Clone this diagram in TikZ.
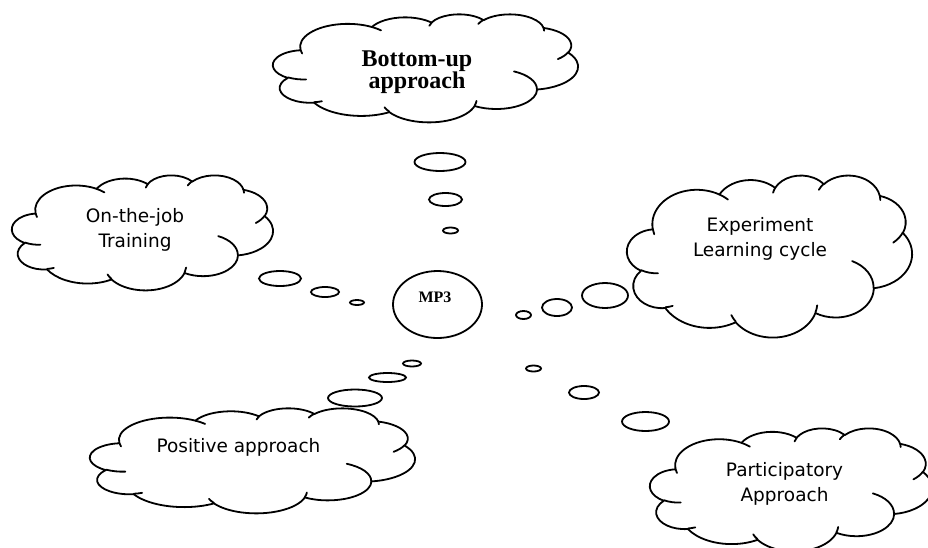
\documentclass[tikz,border=0pt]{standalone}
\usepackage{fontspec}
\setmainfont{Liberation Serif}
\newfontfamily\tahomalike{DejaVu Sans}
\usetikzlibrary{shapes.geometric}

\tikzset{
    cloudline/.style={draw=black, line width=1.8pt, fill=white, line join=round},
    cloudmark/.style={draw=black, line width=1.8pt, line cap=round},
    bubble/.style={draw=black, line width=1.8pt, fill=white},
    sanslabel/.style={font=\tahomalike\fontsize{18.5}{24.5}\selectfont, align=center, inner sep=0pt},
    seriflabel/.style={font=\bfseries\fontsize{24}{22.5}\selectfont, align=center, inner sep=0pt}
}

% thought cloud: left, top, width, height (px); drawn on a 43.2 x 43.2 grid
\newcommand{\officecloud}[4]{%
    \pgfmathsetmacro{\cldx}{#3/43.2}%
    \pgfmathsetmacro{\cldy}{#4/43.2}%
    \begin{scope}[shift={(#1,#2)}, x=\cldx pt, y=-\cldy pt]
        \draw[cloudline] (3.900,14.370)
            arc[start angle=-187.75, end angle=-59.64, x radius=6.753, y radius=9.190]
            arc[start angle=-152.03, end angle=-45.45, x radius=5.333, y radius=7.267]
            arc[start angle=-153.50, end angle=-37.32, x radius=4.365, y radius=5.945]
            arc[start angle=-139.72, end angle=-10.21, x radius=4.857, y radius=6.595]
            arc[start angle=-74.77, end angle=23.21, x radius=5.333, y radius=7.273]
            arc[start angle=-37.52, end angle=81.86, x radius=6.775, y radius=9.220]
            arc[start angle=0.46, end angle=121.98, x radius=5.785, y radius=7.867]
            arc[start angle=16.84, end angle=146.22, x radius=6.752, y radius=9.215]
            arc[start angle=58.98, end angle=150.19, x radius=7.720, y radius=10.543]
            arc[start angle=-276.69, end angle=-136.91, x radius=4.360, y radius=5.918]
            arc[start angle=-239.64, end angle=-95.89, x radius=4.345, y radius=5.945]
            -- cycle;
        \draw[cloudmark]
            (4.693,26.177) arc[start angle=85.55, end angle=120.36, x radius=4.345, y radius=5.945]
            (6.928,34.899) arc[start angle=68.24, end angle=83.31, x radius=4.360, y radius=5.918]
            (16.478,39.090) arc[start angle=146.22, end angle=158.47, x radius=6.752, y radius=9.215]
            (28.827,34.751) arc[start angle=4.74, end angle=16.84, x radius=6.752, y radius=9.215]
            (34.129,22.954) arc[start angle=-64.03, end angle=0.46, x radius=5.785, y radius=7.867]
            (41.798,15.354) arc[start angle=23.21, end angle=49.64, x radius=5.333, y radius=7.273]
            (38.324,5.426) arc[start angle=-10.21, end angle=0.82, x radius=4.857, y radius=6.595]
            (29.078,3.952) arc[start angle=-156.29, end angle=-139.72, x radius=4.857, y radius=6.595]
            (22.141,4.720) arc[start angle=-167.73, end angle=-153.50, x radius=4.365, y radius=5.945]
            (14.000,5.192) arc[start angle=-59.64, end angle=-45.73, x radius=6.753, y radius=9.190]
            (4.127,15.789) arc[start angle=163.20, end angle=172.26, x radius=6.753, y radius=9.190];
    \end{scope}%
}

\begin{document}
\begin{tikzpicture}[x=1pt, y=-1pt]

\useasboundingbox (0,0) rectangle (928,547);
\clip (0,0) rectangle (928,547);

\officecloud{273}{14}{305}{108}
\officecloud{12}{175}{261}{115}
\officecloud{627}{175}{285}{162}
\officecloud{90}{408}{325}{105}
\officecloud{650}{428}{282}{123}

% bubble trails, big to small towards MP3
\foreach \bx/\by/\brx/\bry in {
    440/162/25.5/9, 445.5/199.5/16.5/6.5, 450.5/230.5/7.5/3,
    280/278.5/21/7.5, 325/292/14/5, 357/302.5/7/2.5,
    605/295.5/23/12.5, 557/307.5/15/8.5, 523.5/315/7.5/4,
    355/398/27/8.5, 387.5/377.5/18.5/4.5, 412/363.5/9/3,
    645.5/421.5/23.5/9.5, 584/392.5/15/6.5, 533.5/368.5/7.5/3} {
    \draw[bubble] (\bx,\by) ellipse [x radius=\brx, y radius=\bry];
}

\node[bubble, ellipse, minimum width=89pt, minimum height=67pt, inner sep=0pt] (mp3) at (437.5,304.5) {};
\node[seriflabel, font=\bfseries\fontsize{16}{18}\selectfont] (mp3text) at (435,297.5) {MP3};

\node[seriflabel] (bottomup) at (417,72) {Bottom-up\\approach};
\node[sanslabel] (onjob) at (135,230) {On-the-job\\Training};
\node[sanslabel] (experiment) at (760,238.7) {Experiment\\Learning cycle};
\node[sanslabel] (positive) at (238.5,447.6) {Positive approach};
\node[sanslabel] (participatory) at (784.5,483.8) {Participatory\\Approach};

\end{tikzpicture}
\end{document}
